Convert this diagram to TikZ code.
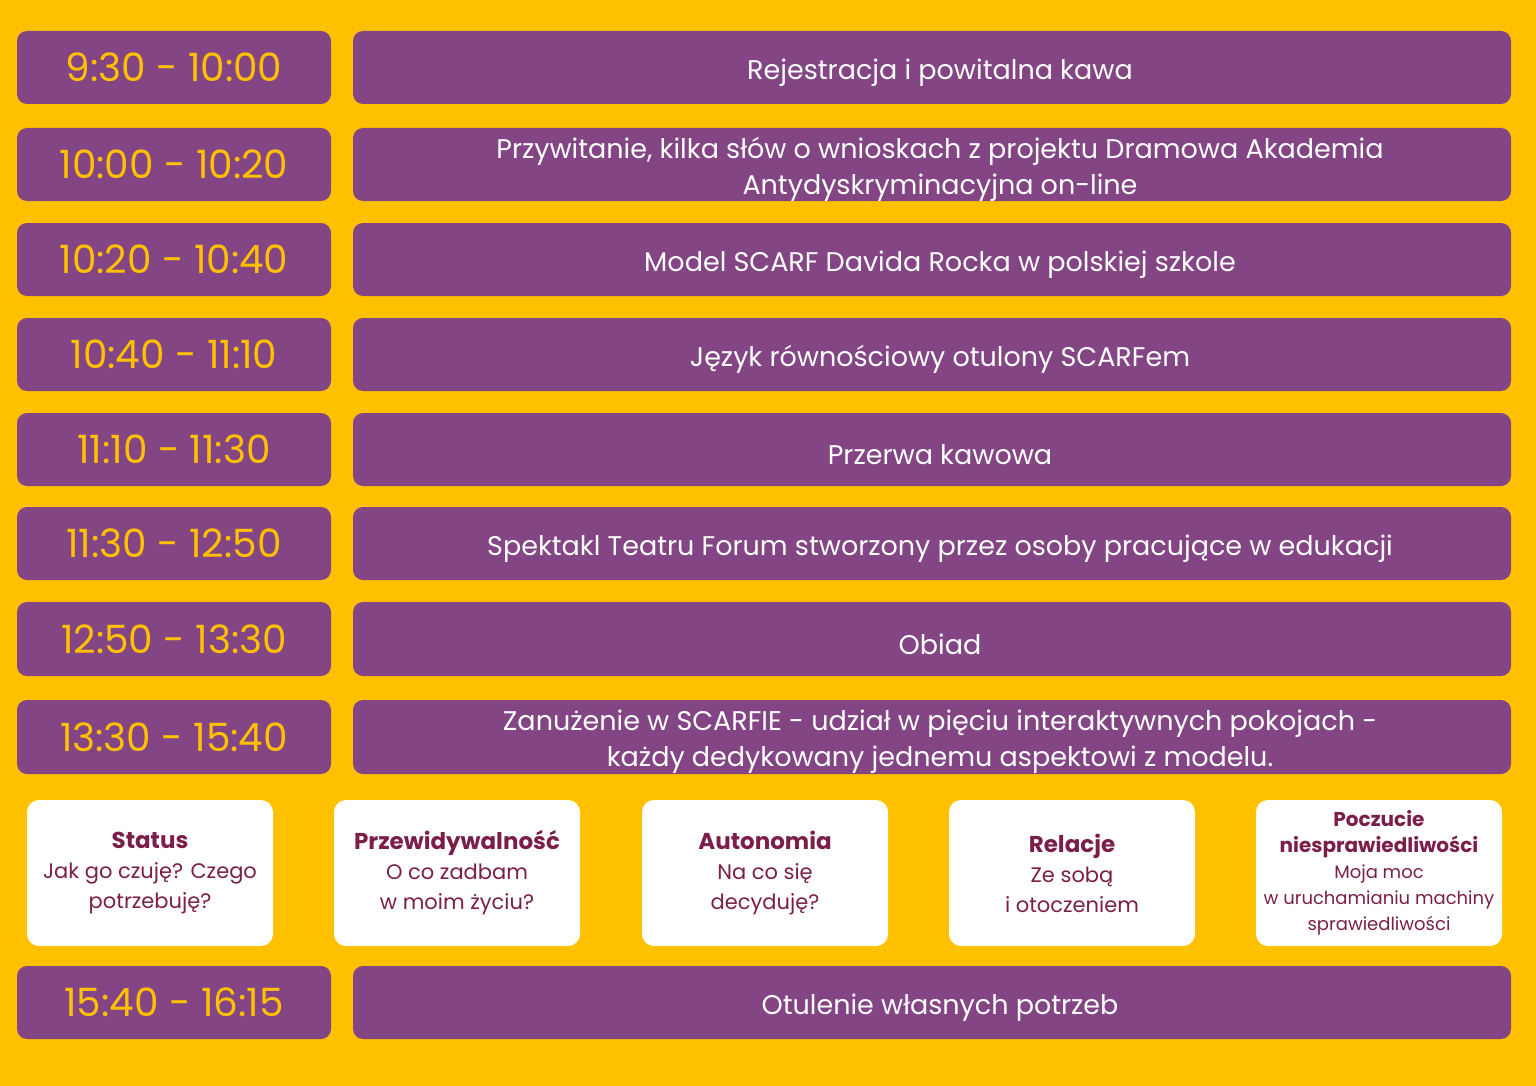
\documentclass[tikz,border=0pt]{standalone}
\usepackage{fontspec}
\setmainfont{Poppins}
\definecolor{tlo}{HTML}{FFC000}
\definecolor{fiolet}{HTML}{834584}
\definecolor{bordo}{HTML}{7B1F4A}
\newcommand{\tytmaly}[1]{\fontsize{10}{13}\selectfont\textbf{#1}}
\tikzset{
  czas/.style={fill=fiolet,rounded corners=5pt,text=tlo,font=\fontsize{19.5}{22}\selectfont},
  punkt/.style={fill=fiolet,rounded corners=5pt,text=white,align=center,font=\fontsize{13.5}{18}\selectfont},
  pokoj/.style={fill=white,rounded corners=6pt,text=bordo,align=center,font=\fontsize{10.5}{15}\selectfont}
}
\begin{document}
\begin{tikzpicture}[x=0.5pt,y=-0.5pt]
\fill[tlo] (0,0) rectangle (1536,1086);
% harmonogram
\foreach \n/\ya/\yb/\t/\e in {
  1/31/104/{9:30 - 10:00}/{Rejestracja i powitalna kawa},
  2/128/201/{10:00 - 10:20}/{Przywitanie, kilka słów o wnioskach z projektu Dramowa Akademia\\Antydyskryminacyjna on-line},
  3/223/296/{10:20 - 10:40}/{Model SCARF Davida Rocka w polskiej szkole},
  4/318/391/{10:40 - 11:10}/{Język równościowy otulony SCARFem},
  5/413/486/{11:10 - 11:30}/{Przerwa kawowa},
  6/507/580/{11:30 - 12:50}/{Spektakl Teatru Forum stworzony przez osoby pracujące w edukacji},
  7/602/676/{12:50 - 13:30}/{Obiad},
  8/700/774/{13:30 - 15:40}/{Zanużenie w SCARFIE - udział w pięciu interaktywnych pokojach -\\każdy dedykowany jednemu aspektowi z modelu.},
  9/966/1039/{15:40 - 16:15}/{Otulenie własnych potrzeb}}{
  \node[czas,minimum width=157pt,minimum height={(\yb-\ya)*0.5pt}] (t\n) at (174,{(\ya+\yb)/2}) {\t};
  \node[punkt,minimum width=579pt,minimum height={(\yb-\ya)*0.5pt}] (e\n) at (932,{(\ya+\yb)/2}) {};
  \node[punkt,fill=none] at (940,{(\ya+\yb)/2+5}) {\e};
}
% pokoje
\foreach \n/\x/\tyt/\opis in {
  1/150/Status/{Jak go czuję? Czego\\potrzebuję?},
  2/457/Przewidywalność/{O co zadbam\\w moim życiu?},
  3/765/Autonomia/{Na co się\\decyduję?},
  4/1072/Relacje/{Ze sobą\\i otoczeniem}}{
  \node[pokoj,minimum width=123pt,minimum height=73pt] (p\n) at (\x,873) {{\fontsize{11.5}{15}\selectfont\textbf{\tyt}}\\\opis};
}
\node[pokoj,minimum width=123pt,minimum height=73pt,font=\fontsize{9}{13}\selectfont] (p5) at (1379,873)
  {\tytmaly{Poczucie}\\\tytmaly{niesprawiedliwości}\\Moja moc\\w uruchamianiu machiny\\sprawiedliwości};
\end{tikzpicture}
\end{document}
